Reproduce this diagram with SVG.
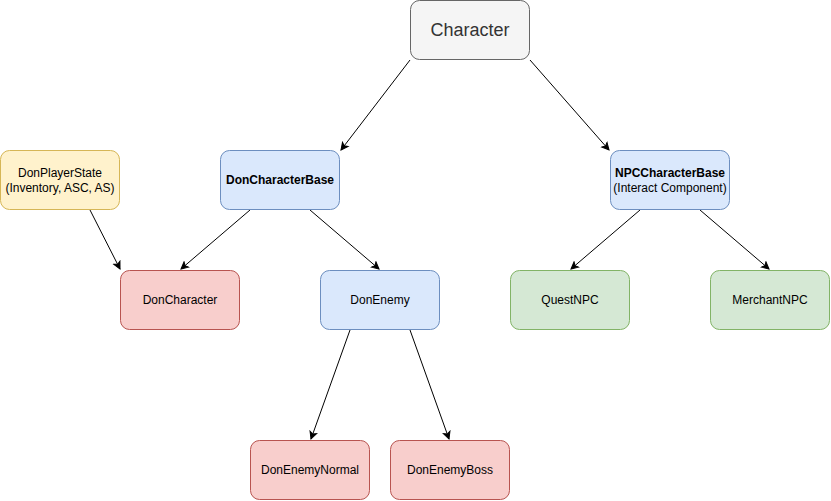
<svg xmlns="http://www.w3.org/2000/svg" width="831" height="501" viewBox="0 0 831 501">
<style>
.n rect{stroke-width:1}
.t{font-family:"Liberation Sans",Arial,Helvetica,sans-serif;font-size:12px;fill:#000;text-anchor:middle}
.b{font-weight:bold}
.gray rect{fill:#f5f5f5;stroke:#666666}
.yellow rect{fill:#fff2cc;stroke:#d6b656}
.blue rect{fill:#dae8fc;stroke:#6c8ebf}
.red rect{fill:#f8cecc;stroke:#b85450}
.green rect{fill:#d5e8d4;stroke:#82b366}
.e line{stroke:#000;stroke-width:1;fill:none;marker-end:url(#arr)}
</style>
<defs>
<marker id="arr" markerUnits="userSpaceOnUse" viewBox="-8 -5 10 10" refX="0" refY="0" markerWidth="10" markerHeight="10" orient="auto">
<path d="M0,0 L-7,-3.5 L-5.25,0 L-7,3.5 Z" fill="#000" stroke="#000" stroke-width="1"/>
</marker>
</defs>
<rect x="0" y="0" width="831" height="501" fill="#ffffff"/>
<g id="connectors" class="e">
<line x1="410" y1="60" x2="341" y2="150"/>
<line x1="530" y1="60" x2="609" y2="150"/>
<line x1="90" y1="210" x2="120" y2="269"/>
<line x1="250" y1="210" x2="181" y2="269"/>
<line x1="310" y1="210" x2="379" y2="269"/>
<line x1="640" y1="210" x2="571" y2="269"/>
<line x1="700" y1="210" x2="769" y2="269"/>
<line x1="350" y1="330" x2="311" y2="439"/>
<line x1="410" y1="330" x2="449" y2="439"/>
</g>
<g id="Character" class="n gray">
<rect x="410.5" y="0.5" width="119" height="59" rx="9"/>
<text class="t" x="470" y="36" style="font-size:18px;fill:#333333">Character</text>
</g>
<g id="DonPlayerState" class="n yellow">
<rect x="0.5" y="150.5" width="119" height="59" rx="9"/>
<text class="t" x="60" y="177">DonPlayerState</text>
<text class="t" x="60" y="192">(Inventory, ASC, AS)</text>
</g>
<g id="DonCharacterBase" class="n blue">
<rect x="220.5" y="150.5" width="119" height="59" rx="9"/>
<text class="t b" x="280" y="184">DonCharacterBase</text>
</g>
<g id="NPCCharacterBase" class="n blue">
<rect x="610.5" y="150.5" width="119" height="59" rx="9"/>
<text class="t b" x="670" y="177">NPCCharacterBase</text>
<text class="t" x="670" y="192">(Interact Component)</text>
</g>
<g id="DonCharacter" class="n red">
<rect x="120.5" y="270.5" width="119" height="59" rx="9"/>
<text class="t" x="180" y="304">DonCharacter</text>
</g>
<g id="DonEnemy" class="n blue">
<rect x="320.5" y="270.5" width="119" height="59" rx="9"/>
<text class="t" x="380" y="304">DonEnemy</text>
</g>
<g id="QuestNPC" class="n green">
<rect x="510.5" y="270.5" width="119" height="59" rx="9"/>
<text class="t" x="570" y="304">QuestNPC</text>
</g>
<g id="MerchantNPC" class="n green">
<rect x="710.5" y="270.5" width="119" height="59" rx="9"/>
<text class="t" x="770" y="304">MerchantNPC</text>
</g>
<g id="DonEnemyNormal" class="n red">
<rect x="250.5" y="440.5" width="119" height="59" rx="9"/>
<text class="t" x="310" y="474">DonEnemyNormal</text>
</g>
<g id="DonEnemyBoss" class="n red">
<rect x="390.5" y="440.5" width="119" height="59" rx="9"/>
<text class="t" x="450" y="474">DonEnemyBoss</text>
</g>
</svg>
